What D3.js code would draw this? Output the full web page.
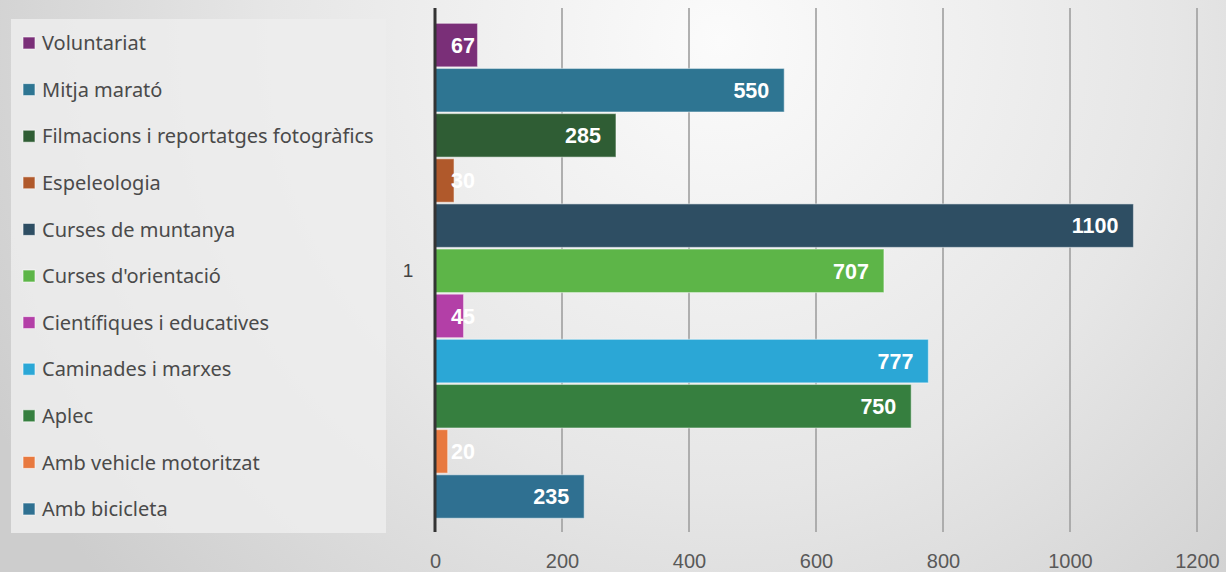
<!DOCTYPE html>
<html>
<head>
<meta charset="utf-8">
<script src="https://cdn.jsdelivr.net/npm/d3@7"></script>
<style>
  html, body { margin: 0; padding: 0; background: #e6e6e6; }
  svg { display: block; }
</style>
</head>
<body>
<svg id="chart" width="1226" height="572"></svg>
<script>
// ---- data ----
const categories = ["1"];
const seriesNames = [
  "Voluntariat",
  "Mitja marató",
  "Filmacions i reportatges fotogràfics",
  "Espeleologia",
  "Curses de muntanya",
  "Curses d'orientació",
  "Científiques i educatives",
  "Caminades i marxes",
  "Aplec",
  "Amb vehicle motoritzat",
  "Amb bicicleta"
];
const seriesValues = [67, 550, 285, 30, 1100, 707, 45, 777, 750, 20, 235];
const seriesColors = [
  "#7a2f78", "#2e7592", "#2f5d34", "#b0592b", "#2e4e63",
  "#5db548", "#b33fa7", "#2ba7d6", "#367f3f", "#e8793f", "#2f7091"
];
const xTicks = [0, 200, 400, 600, 800, 1000, 1200];

// ---- layout ----
const W = 1226, H = 572;
const plot = { left: 435, right: 1197, top: 8, bottom: 532 };

const svg = d3.select("#chart");
const defs = svg.append("defs");
const grad = defs.append("radialGradient")
  .attr("id", "bg").attr("gradientUnits", "userSpaceOnUse")
  .attr("cx", 720).attr("cy", 40).attr("r", 820);
grad.append("stop").attr("offset", "0%").attr("stop-color", "#fbfbfb");
grad.append("stop").attr("offset", "55%").attr("stop-color", "#e6e6e6");
grad.append("stop").attr("offset", "100%").attr("stop-color", "#cdcdcd");

svg.append("rect").attr("width", W).attr("height", H).attr("fill", "url(#bg)");

const x = d3.scaleLinear().domain([0, 1200]).range([plot.left, plot.right]);
const yCat = d3.scaleBand().domain(categories).range([plot.top, plot.bottom]).paddingInner(0).paddingOuter(0);
const ySer = d3.scaleBand().domain(seriesNames)
  .range([yCat("1") + 15.3, yCat("1") + yCat.bandwidth() - 13.7])
  .paddingInner(0.035).paddingOuter(0);

// legend box
const legend = { x: 11, y: 19, w: 375, h: 514 };
svg.append("rect")
  .attr("x", legend.x).attr("y", legend.y)
  .attr("width", legend.w).attr("height", legend.h)
  .attr("fill", "#ededed").attr("fill-opacity", 0.85);

const legY = d3.scalePoint().domain(seriesNames).range([43, 509]);
const lg = svg.append("g");
seriesNames.forEach((name, i) => {
  const cy = legY(name);
  lg.append("rect")
    .attr("x", 23).attr("y", cy - 6).attr("width", 12).attr("height", 12)
    .attr("fill", seriesColors[i]).attr("stroke", "#ffffff").attr("stroke-opacity", 0.6).attr("stroke-width", 1);
  lg.append("text")
    .attr("x", 42).attr("y", cy).attr("dy", "0.36em")
    .attr("font-family", "'Noto Sans', sans-serif").attr("font-size", 20)
    .attr("fill", "#4a4a4a")
    .attr("textLength", null)
    .text(name);
});

// gridlines
svg.append("g")
  .selectAll("line").data(xTicks.filter(d => d > 0)).join("line")
  .attr("x1", d => x(d)).attr("x2", d => x(d))
  .attr("y1", plot.top).attr("y2", plot.bottom)
  .attr("stroke", "#a3a3a3").attr("stroke-width", 2).attr("stroke-opacity", 0.85);

// bars
const bars = svg.append("g");
bars.selectAll("rect").data(seriesNames).join("rect")
  .attr("x", x(0))
  .attr("y", d => ySer(d))
  .attr("width", (d, i) => x(seriesValues[i]) - x(0))
  .attr("height", ySer.bandwidth())
  .attr("fill", (d, i) => seriesColors[i])
  .attr("stroke", "#ffffff").attr("stroke-opacity", 0.45).attr("stroke-width", 1.2);

// value labels
const lbl = svg.append("g");
seriesNames.forEach((name, i) => {
  const t = lbl.append("text")
    .attr("font-family", "'Liberation Sans', Arial, sans-serif")
    .attr("font-weight", "bold").attr("font-size", 21.5)
    .attr("fill", "#ffffff")
    .attr("y", ySer(name) + ySer.bandwidth() / 2).attr("dy", "0.36em")
    .text(seriesValues[i]);
  const w = t.node().getComputedTextLength();
  const endX = x(seriesValues[i]) - 15;
  const startX = Math.max(endX - w, x(0) + 16);
  t.attr("x", startX);
});

// y axis line
svg.append("line")
  .attr("x1", x(0)).attr("x2", x(0))
  .attr("y1", plot.top).attr("y2", plot.bottom)
  .attr("stroke", "#333333").attr("stroke-width", 3);

// category label
svg.append("text")
  .attr("x", 408).attr("y", yCat("1") + yCat.bandwidth() / 2).attr("dy", "0.36em")
  .attr("text-anchor", "middle")
  .attr("font-family", "'Liberation Sans', Arial, sans-serif").attr("font-size", 19)
  .attr("fill", "#444444")
  .text(categories[0]);

// x axis tick labels
const xAxis = d3.axisBottom(x).tickValues(xTicks).tickSize(0).tickPadding(0).tickFormat(d3.format("d"));
const gx = svg.append("g").attr("transform", `translate(0, ${plot.bottom})`).call(xAxis);
gx.select(".domain").remove();
gx.selectAll("text")
  .attr("y", 36).attr("dy", 0)
  .attr("font-family", "'Liberation Sans', Arial, sans-serif").attr("font-size", 20)
  .attr("fill", "#595959");
</script>
</body>
</html>
